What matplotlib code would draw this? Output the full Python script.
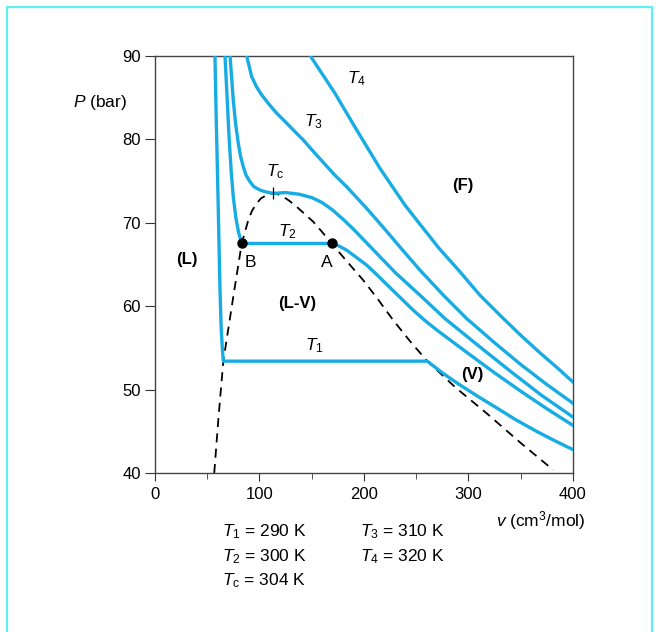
import matplotlib
matplotlib.use('Agg')
import matplotlib.pyplot as plt
from matplotlib.patches import Rectangle

plt.rcParams['font.family'] = ['Liberation Sans', 'DejaVu Sans']
plt.rcParams['mathtext.fontset'] = 'custom'
plt.rcParams['mathtext.rm'] = 'Liberation Sans'
plt.rcParams['mathtext.it'] = 'Liberation Sans:italic'
plt.rcParams['mathtext.bf'] = 'Liberation Sans:bold'

# isotherms, v in cm3/mol, P in bar
t1_v = [57.4, 58.5, 59.8, 61.0, 62.2, 63.3, 64.4, 65.4,
        260.6, 275, 290, 310, 327, 345, 365, 382, 400]
t1_p = [90.0, 83.0, 76.0, 69.0, 62.0, 57.5, 55.0, 53.4,
        53.4, 52.0, 50.7, 49.1, 47.8, 46.4, 45.0, 43.9, 42.8]

t2_v = [67, 69, 71, 73, 75, 77.5, 80, 83,
        169, 176, 183.4, 192, 202.6, 212, 221.7, 234, 247.2, 258, 270, 285, 300, 325, 350, 375, 400]
t2_p = [90.0, 85.0, 80.0, 76.0, 73.0, 70.5, 68.8, 67.5,
        67.5, 67.2, 66.7, 65.9, 64.9, 63.8, 62.6, 61.1, 59.5, 58.3, 57.1, 55.7, 54.3, 52.0, 49.8, 47.7, 45.7]

tc_v = [71.8, 73.4, 74.9, 77.0, 79.7, 81.8, 84.5, 87.1, 90.9, 94.7, 100.5, 105.3, 113.2,
        125, 138, 150, 160, 170, 180, 190, 200, 210, 230, 253.6, 277.5, 310, 340, 370, 400]
tc_p = [90.0, 87.3, 84.7, 82.0, 79.5, 78.0, 76.7, 75.7, 74.9, 74.3, 73.9, 73.7, 73.5,
        73.6, 73.4, 73.0, 72.4, 71.5, 70.4, 69.2, 67.9, 66.6, 64.0, 61.3, 58.5, 55.2, 52.2, 49.3, 46.7]

t3_v = [87.7, 90.0, 92.5, 97.0, 102.1, 109, 116.5, 123, 129.2, 135.5, 141.9, 151, 161.1, 172, 183.4, 193,
        202.6, 220, 237, 253.6, 276, 298.3, 325, 350, 375, 400]
t3_p = [90.0, 88.8, 87.5, 86.3, 85.3, 84.2, 83.1, 82.3, 81.5, 80.7, 79.9, 78.6, 77.2, 75.7, 74.3, 73.0,
        71.7, 69.2, 66.7, 64.3, 61.3, 58.5, 55.6, 53.0, 50.6, 48.35]

t4_v = [148.5, 172.2, 193, 215.3, 239.2, 253.6, 272, 291.9, 311, 331.8, 350, 368.4, 385, 400]
t4_p = [90.0, 85.5, 81.1, 76.5, 72.1, 69.8, 66.9, 64.1, 61.3, 58.7, 56.5, 54.4, 52.6, 50.9]

# saturation dome (dashed)
dome_v = [56.7, 61.0, 65.4, 74.9, 83.0, 89.3, 92.8, 97.3, 101.4, 106.9, 113.2, 117.7, 122.8,
          128.7, 135.6, 143.5, 151.5, 159.8, 169.1, 184, 199.3, 214, 228.0, 244, 260.6,
          288, 317.4, 350, 381.1]
dome_p = [40.0, 47.0, 53.4, 61.1, 67.5, 70.3, 71.4, 72.3, 72.9, 73.3, 73.5, 73.4, 73.1,
          72.6, 71.9, 71.0, 70.1, 68.9, 67.5, 65.3, 63.1, 60.7, 58.3, 55.8, 53.4,
          50.2, 47.15, 43.6, 40.36]

pts_v = [83.0, 169.0]
pts_p = [67.5, 67.5]
crit_v, crit_p = 113.2, 73.5

legend_left = [r'$T_1$ = 290 K', r'$T_2$ = 300 K', r'$T_\mathrm{c}$ = 304 K']
legend_right = [r'$T_3$ = 310 K', r'$T_4$ = 320 K']

blue = '#17ACE3'

fig = plt.figure(figsize=(6.57, 6.32), dpi=100)
ax = fig.add_axes([0.2359, 0.2516, 0.6362, 0.6603])

for v, p in [(t1_v, t1_p), (t2_v, t2_p), (tc_v, tc_p), (t3_v, t3_p), (t4_v, t4_p)]:
    ax.plot(v, p, color=blue, lw=2.4, solid_joinstyle='round', zorder=3)

ax.plot(dome_v, dome_p, color='black', lw=1.3, dashes=(5, 3.5), zorder=2)
ax.plot(pts_v, pts_p, 'o', color='black', ms=6.5, zorder=4)
ax.plot([crit_v], [crit_p], '|', color='black', ms=9, mew=0.9, zorder=4)

ax.set_xlim(0, 400)
ax.set_ylim(40, 90)
ax.set_xticks([0, 100, 200, 300, 400])
ax.set_xticks([50, 150, 250, 350], minor=True)
ax.set_yticks([40, 50, 60, 70, 80, 90])
ax.tick_params(axis='both', which='major', direction='out', labelsize=12, color='#333333')
ax.tick_params(axis='x', which='major', length=6, pad=4)
ax.tick_params(axis='x', which='minor', length=4, color='#333333')
ax.tick_params(axis='y', which='major', length=7, pad=3)
for s in ax.spines.values():
    s.set_color('#444444')
    s.set_linewidth(1.0)

fs = 12.5
ax.text(193.3, 87.3, r'$T_4$', fontsize=fs, ha='center', va='center')
ax.text(151.2, 82.1, r'$T_3$', fontsize=fs, ha='center', va='center')
ax.text(114.8, 76.1, r'$T_\mathrm{c}$', fontsize=fs, ha='center', va='center')
ax.text(126.3, 68.9, r'$T_2$', fontsize=fs, ha='center', va='center')
ax.text(152.2, 55.3, r'$T_1$', fontsize=fs, ha='center', va='center')
ax.text(90.9, 65.2, 'B', fontsize=fs, ha='center', va='center')
ax.text(164.6, 65.2, 'A', fontsize=fs, ha='center', va='center')
for x, y, s in [(30.6, 65.6, '(L)'), (135.9, 60.3, '(L-V)'), (294.7, 74.5, '(F)'), (303.3, 51.75, '(V)')]:
    ax.text(x, y, s, fontsize=12, fontweight='bold', ha='center', va='center')

ax.text(-0.068, 0.889, r'$P$ (bar)', transform=ax.transAxes, fontsize=fs, ha='right', va='center')
ax.text(1.03, -0.115, r'$v$ (cm$^3$/mol)', transform=ax.transAxes, fontsize=fs, ha='right', va='center')

for i, s in enumerate(legend_left):
    fig.text(0.338, 0.158 - i * 0.038, s, fontsize=fs, ha='left', va='center')
for i, s in enumerate(legend_right):
    fig.text(0.548, 0.158 - i * 0.038, s, fontsize=fs, ha='left', va='center')

# cyan frame, open at the bottom edge
fig.patches.append(Rectangle((7 / 657, -0.05), 645 / 657, 1.05 - 7 / 632, transform=fig.transFigure,
                             fill=False, edgecolor='#5CF2F2', lw=1.6))

fig.savefig('out.png', dpi=100)
